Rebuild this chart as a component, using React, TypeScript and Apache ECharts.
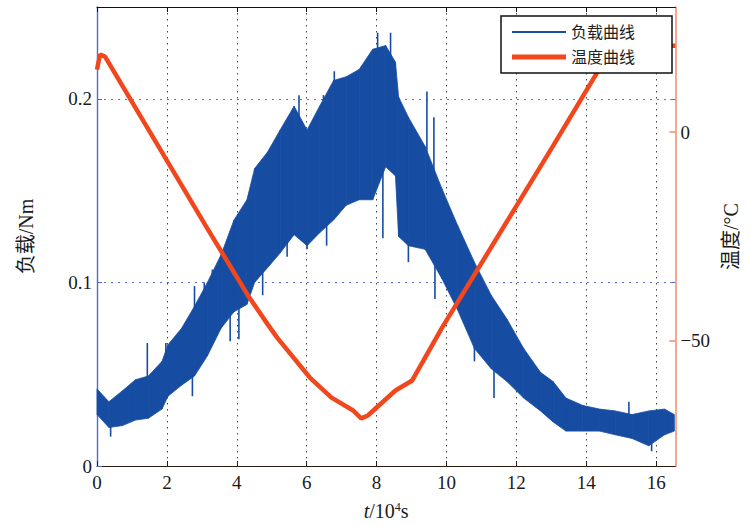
import React, { useEffect, useRef } from "react";
import * as echarts from "echarts";

// x in 10^4 s
const xTicks = [0, 2, 4, 6, 8, 10, 12, 14, 16];
const loadTicks = [0, 0.1, 0.2];
const tempTicks = [-50, 0];

// load band envelope
const loadX = [0, 0.34, 0.73, 1.1, 1.47, 1.86, 2.03, 2.42, 2.79, 3.16, 3.55, 3.92, 4.29, 4.51, 4.88, 5.24, 5.64, 6.01, 6.37, 6.77, 7.13, 7.5, 7.89, 8.26, 8.54, 8.63, 8.91, 9.39, 9.87, 10.32, 10.8, 11.28, 11.73, 12.21, 12.69, 13.05, 13.42, 13.9, 14.38, 14.83, 15.31, 15.79, 16.24, 16.52];
const loadHi = [0.042, 0.035, 0.041, 0.047, 0.049, 0.057, 0.066, 0.075, 0.087, 0.1, 0.115, 0.134, 0.145, 0.162, 0.171, 0.183, 0.196, 0.183, 0.196, 0.21, 0.212, 0.216, 0.227, 0.229, 0.22, 0.201, 0.19, 0.174, 0.151, 0.131, 0.111, 0.093, 0.08, 0.064, 0.051, 0.046, 0.037, 0.033, 0.031, 0.03, 0.028, 0.03, 0.031, 0.028];
const loadLo = [0.028, 0.021, 0.022, 0.025, 0.026, 0.031, 0.038, 0.044, 0.049, 0.06, 0.075, 0.084, 0.088, 0.1, 0.108, 0.116, 0.126, 0.12, 0.127, 0.134, 0.142, 0.145, 0.145, 0.163, 0.158, 0.125, 0.12, 0.118, 0.102, 0.085, 0.064, 0.053, 0.046, 0.037, 0.03, 0.024, 0.019, 0.019, 0.019, 0.017, 0.015, 0.011, 0.017, 0.019];

// isolated spikes of the load signal (from / to)
const spikeX = [1.44, 1.97, 2.79, 3.07, 3.3, 3.58, 5.78, 6.48, 6.79, 8.03, 8.4, 9.44, 9.64, 15.22, 0.39, 2.73, 3.81, 4.06, 4.74, 5.44, 6.01, 6.57, 8.18, 8.91, 9.67, 10.8, 11.36, 15.87];
const spikeLo = [0.045, 0.055, 0.08, 0.09, 0.095, 0.105, 0.185, 0.19, 0.205, 0.22, 0.22, 0.17, 0.16, 0.026, 0.016, 0.038, 0.068, 0.069, 0.093, 0.114, 0.118, 0.12, 0.124, 0.111, 0.091, 0.057, 0.037, 0.008];
const spikeHi = [0.067, 0.067, 0.098, 0.1, 0.107, 0.115, 0.202, 0.202, 0.215, 0.236, 0.236, 0.204, 0.19, 0.035, 0.025, 0.05, 0.085, 0.09, 0.108, 0.125, 0.125, 0.133, 0.16, 0.125, 0.11, 0.066, 0.052, 0.014];

// temperature curve
const tempX = [0, 0.085, 0.23, 3.16, 4.31, 4.88, 5.16, 6.09, 6.71, 7.33, 7.56, 7.75, 8.54, 9.02, 9.87, 11.73, 13.05, 14.77, 16.55];
const tempY = [15.0, 18.6, 18.1, -23.1, -39.0, -46.0, -49.3, -58.8, -63.6, -66.7, -68.6, -67.9, -61.9, -59.5, -46.9, -21.4, -3.3, 20.7, 20.7];

const BLUE = "#164da2";
const ORANGE = "#f2461c";
const FONT = '"Liberation Serif", "Noto Sans CJK SC", serif';

export default function App() {
  const ref = useRef<HTMLDivElement>(null);
  useEffect(() => {
    if (!ref.current) return;
    const chart = echarts.init(ref.current, null, { renderer: "svg" });
    const labelStyle = { fontFamily: FONT, fontSize: 19, color: "#1a1a1a" };
    const bandData = loadX.slice(0, -1).map((x, i) => [x, loadLo[i], loadHi[i], loadX[i + 1], loadLo[i + 1], loadHi[i + 1]]);
    chart.setOption({
      animation: false,
      backgroundColor: "#fff",
      grid: { left: 97, right: 65, top: 7, bottom: 58, show: false },
      legend: [
        {
          data: [{ name: "负载曲线", icon: "rect" }],
          left: 512, top: 24, padding: 0, itemWidth: 54, itemHeight: 2, z: 200, selectedMode: false,
          textStyle: { fontFamily: FONT, fontSize: 16, color: "#222" },
        },
        {
          data: [{ name: "温度曲线", icon: "rect" }],
          left: 512, top: 49, padding: 0, itemWidth: 54, itemHeight: 5, z: 200, selectedMode: false,
          textStyle: { fontFamily: FONT, fontSize: 16, color: "#222" },
        },
      ],
      graphic: [
        { type: "rect", z: 150, shape: { x: 501, y: 16, width: 171, height: 57 }, style: { fill: "#fff", stroke: "#111", lineWidth: 1.5 } },
      ],
      xAxis: [
        {
          type: "value", min: 0, max: 16.55, position: "bottom",
          axisLine: { show: true, onZero: false, lineStyle: { color: "#2b1a12", width: 1.2 } },
          axisTick: { show: true, inside: true, length: 5, customValues: xTicks, lineStyle: { color: "#2b1a12" } },
          axisLabel: { customValues: xTicks, margin: 7, ...labelStyle },
          splitLine: { show: true, lineStyle: { color: "#444", type: [1.5, 4.5], width: 1 } },
          name: "{i|t}/10{s|4}s", nameLocation: "middle", nameGap: 35,
          nameTextStyle: {
            fontFamily: FONT, fontSize: 20, color: "#1a1a1a",
            rich: {
              i: { fontFamily: FONT, fontSize: 20, fontStyle: "italic", color: "#1a1a1a" },
              s: { fontFamily: FONT, fontSize: 12, verticalAlign: "top", color: "#1a1a1a" },
            },
          },
        },
        {
          type: "value", min: 0, max: 16.55, position: "top",
          axisLine: { show: true, onZero: false, lineStyle: { color: "#111" } },
          axisTick: { show: true, inside: true, length: 5, customValues: xTicks, lineStyle: { color: "#111" } },
          axisLabel: { show: false },
          splitLine: { show: false },
        },
      ],
      yAxis: [
        {
          type: "value", min: 0, max: 0.25, position: "left",
          axisLine: { show: true, onZero: false, lineStyle: { color: "#4f6bd0", width: 1.4 } },
          axisTick: { show: true, inside: true, length: 5, customValues: loadTicks, lineStyle: { color: "#4f6bd0" } },
          axisLabel: { customValues: loadTicks, margin: 5, formatter: (v: number) => (v === 0 ? "0" : String(v)), ...labelStyle },
          splitLine: { show: true, lineStyle: { color: "#5c70e2", type: [2, 5], width: 1.2 } },
          name: "负载/Nm", nameLocation: "middle", nameGap: 61, nameRotate: 90,
          nameTextStyle: { fontFamily: FONT, fontSize: 20, color: "#1a1a1a" },
        },
        {
          type: "value", min: -80, max: 30, position: "right",
          axisLine: { show: true, onZero: false, lineStyle: { color: "#f5896a", width: 1.5 } },
          axisTick: { show: true, inside: true, length: 6, customValues: tempTicks, lineStyle: { color: "#f5896a", width: 1.5 } },
          axisLabel: { customValues: tempTicks, margin: 5, formatter: (v: number) => (v < 0 ? "\u2212" + -v : String(v)), ...labelStyle },
          splitLine: { show: false },
          name: "温度/°C", nameLocation: "middle", nameGap: 45, nameRotate: 90,
          nameTextStyle: { fontFamily: FONT, fontSize: 20, color: "#1a1a1a" },
        },
        {
          type: "value", min: 0, max: 0.25, position: "right",
          axisLine: { show: false, onZero: false },
          axisTick: { show: true, inside: true, length: 5, customValues: [0.1, 0.2], lineStyle: { color: "#4f6bd0" } },
          axisLabel: { show: false },
          splitLine: { show: false },
        },
      ],
      series: [
        {
          type: "custom", name: "负载曲线", xAxisIndex: 0, yAxisIndex: 0, z: 2,
          itemStyle: { color: BLUE },
          data: bandData,
          encode: { x: [0, 3], y: [1, 2, 4, 5] },
          renderItem: (_p: any, api: any) => {
            const p1 = api.coord([api.value(0), api.value(1)]);
            const p2 = api.coord([api.value(0), api.value(2)]);
            const p3 = api.coord([api.value(3), api.value(5)]);
            const p4 = api.coord([api.value(3), api.value(4)]);
            return {
              type: "polygon",
              shape: { points: [p1, p2, p3, p4] },
              style: { fill: BLUE, stroke: BLUE, lineWidth: 0.8 },
            };
          },
        },
        {
          type: "custom", name: "spikes", xAxisIndex: 0, yAxisIndex: 0, z: 3, silent: true,
          data: spikeX.map((x, i) => [x, spikeLo[i], spikeHi[i]]),
          encode: { x: 0, y: [1, 2] },
          renderItem: (_p: any, api: any) => {
            const a = api.coord([api.value(0), api.value(1)]);
            const b = api.coord([api.value(0), api.value(2)]);
            return { type: "line", shape: { x1: a[0], y1: a[1], x2: b[0], y2: b[1] }, style: { stroke: BLUE, lineWidth: 1.6 } };
          },
        },
        {
          type: "line", name: "温度曲线", xAxisIndex: 0, yAxisIndex: 1,
          data: tempX.map((x, i) => [x, tempY[i]]),
          symbol: "none", lineStyle: { color: ORANGE, width: 4.5 }, itemStyle: { color: ORANGE }, z: 5,
        },
      ],
    });
    return () => chart.dispose();
  }, []);
  return <div ref={ref} style={{ width: 749, height: 526, position: "absolute", left: 0, top: 0 }} />;
}
